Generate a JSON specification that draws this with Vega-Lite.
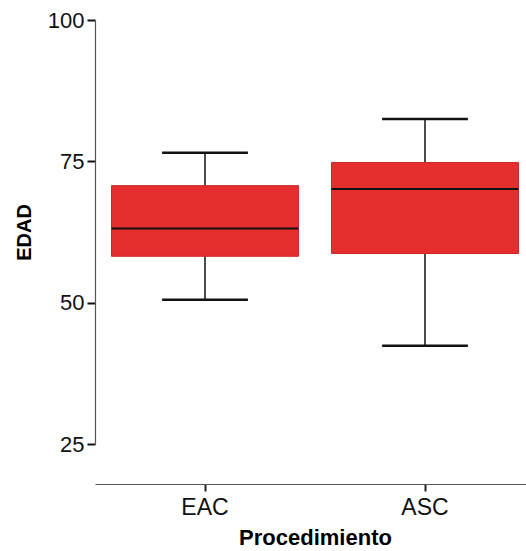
{
  "$schema": "https://vega.github.io/schema/vega-lite/v6.json",
  "autosize": {"type": "none"},
  "padding": {"left": 95, "top": 20, "right": 0, "bottom": 107},
  "width": 431,
  "height": 424,
  "background": "white",
  "config": {
    "view": {"stroke": null},
    "font": "Liberation Sans",
    "axis": {"grid": false, "labelColor": "#111", "titleColor": "#000", "labelFont": "Liberation Sans", "titleFont": "Liberation Sans"}
  },
  "data": {
    "values": [
      {"Procedimiento": "EAC", "min": 50.5, "q1": 58.2, "median": 63.1, "q3": 70.7, "max": 76.5},
      {"Procedimiento": "ASC", "min": 42.4, "q1": 58.7, "median": 70.1, "q3": 74.8, "max": 82.5}
    ]
  },
  "encoding": {
    "x": {
      "field": "Procedimiento", "type": "nominal",
      "scale": {"type": "band", "domain": ["EAC", "ASC"], "range": [0, 440], "paddingInner": 0, "paddingOuter": 0},
      "axis": {"labelAngle": 0, "offset": 40, "domainColor": "#555", "domainWidth": 1.2, "tickColor": "#222", "tickWidth": 2, "tickSize": 7, "labelFontSize": 23, "labelPadding": 5, "titleFontSize": 22, "titleFontWeight": "bold", "titlePadding": 8, "title": "Procedimiento"}
    }
  },
  "layer": [
    {
      "mark": {"type": "rule", "color": "#111", "strokeWidth": 1.5},
      "encoding": {
        "y": {
          "field": "min", "type": "quantitative",
          "scale": {"domain": [25, 100], "nice": false, "zero": false},
          "axis": {"values": [25, 50, 75, 100], "domainColor": "#555", "domainWidth": 1.2, "tickColor": "#111", "tickWidth": 2, "tickSize": 8, "labelFontSize": 22, "labelPadding": 3, "title": "EDAD", "titleFontSize": 20, "titleFontWeight": "bold", "titlePadding": 13}
        },
        "y2": {"field": "max"}
      }
    },
    {
      "mark": {"type": "bar", "color": "#E52E2E", "stroke": "#C72828", "strokeWidth": 1, "width": {"band": 0.85}},
      "encoding": {
        "y": {"field": "q1", "type": "quantitative"},
        "y2": {"field": "q3"}
      }
    },
    {
      "mark": {"type": "bar", "stroke": "#111", "strokeWidth": 2, "fill": null, "width": {"band": 0.85}},
      "encoding": {
        "y": {"field": "median", "type": "quantitative"},
        "y2": {"field": "median"}
      }
    },
    {
      "mark": {"type": "bar", "stroke": "#111", "strokeWidth": 2.5, "fill": null, "width": {"band": 0.39}},
      "encoding": {
        "y": {"field": "max", "type": "quantitative"},
        "y2": {"field": "max"}
      }
    },
    {
      "mark": {"type": "bar", "stroke": "#111", "strokeWidth": 2.5, "fill": null, "width": {"band": 0.39}},
      "encoding": {
        "y": {"field": "min", "type": "quantitative"},
        "y2": {"field": "min"}
      }
    }
  ]
}
